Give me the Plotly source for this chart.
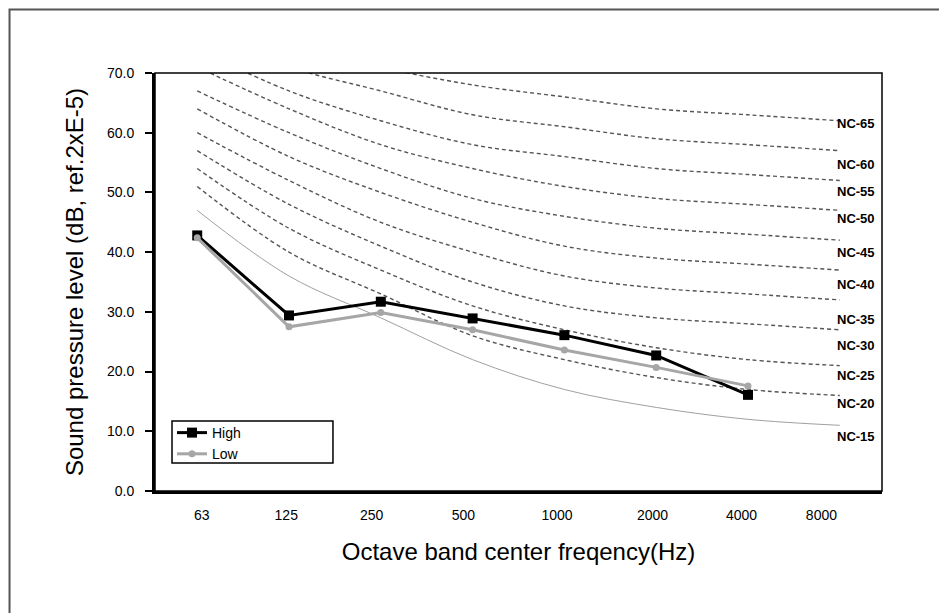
import plotly.graph_objects as go

# octave bands
bands = ['63', '125', '250', '500', '1000', '2000', '4000', '8000']
band_idx = list(range(len(bands)))

# measured levels
high = [42.8, 29.4, 31.7, 28.9, 26.1, 22.7, 16.1]
low = [42.4, 27.5, 29.9, 27.0, 23.6, 20.7, 17.6]

# NC reference curves
nc_names = ['NC-15', 'NC-20', 'NC-25', 'NC-30', 'NC-35', 'NC-40',
            'NC-45', 'NC-50', 'NC-55', 'NC-60', 'NC-65']
nc_curves = [
    [47, 36, 29, 22, 17, 14, 12, 11],
    [51, 40, 33, 26, 22, 19, 17, 16],
    [54, 44, 37, 31, 27, 24, 22, 21],
    [57, 48, 41, 35, 31, 29, 28, 27],
    [60, 52, 45, 40, 36, 34, 33, 32],
    [64, 56, 50, 45, 41, 39, 38, 37],
    [67, 60, 54, 49, 46, 44, 43, 42],
    [71, 64, 58, 54, 51, 49, 48, 47],
    [74, 67, 62, 58, 56, 54, 53, 52],
    [77, 71, 67, 63, 61, 59, 58, 57],
    [80, 75, 71, 68, 66, 64, 63, 62],
]

# layout helpers: where the NC labels sit (data y) and the x tick label shifts
nc_label_y = [9.2, 14.6, 19.3, 24.3, 28.8, 34.6, 39.9, 45.7, 50.1, 54.6, 61.5]
tick_shift = [0.05, -0.03, -0.10, -0.10, -0.08, -0.04, -0.07, -0.20]

fig = go.Figure()

for name, vals in zip(nc_names, nc_curves):
    if name == 'NC-15':
        line = dict(color='#a0a0a0', width=1, shape='spline', smoothing=1)
    else:
        line = dict(color='#555555', width=1.4, dash='4px,3px', shape='spline', smoothing=1)
    fig.add_trace(go.Scatter(x=band_idx, y=vals, mode='lines', line=line,
                             showlegend=False, hoverinfo='skip', name=name))

fig.add_trace(go.Scatter(x=band_idx[:len(high)], y=high, mode='lines+markers', name='High',
                         line=dict(color='black', width=3),
                         marker=dict(symbol='square', size=10, color='black')))
fig.add_trace(go.Scatter(x=band_idx[:len(low)], y=low, mode='lines+markers', name='Low',
                         line=dict(color='#a6a6a6', width=3),
                         marker=dict(symbol='circle', size=7, color='#a6a6a6')))

# NC labels on the right
for name, yy in zip(nc_names, nc_label_y):
    fig.add_annotation(x=0.993, xref='paper', y=yy, yref='y', text=name,
                       showarrow=False, xanchor='right', yanchor='middle',
                       font=dict(family='Liberation Sans Narrow, Arial Narrow, Liberation Sans, Arial',
                                 size=13, color='black', weight='bold'))

fig.update_xaxes(range=[-0.46, 7.46], showline=True, linecolor='black',
                 linewidth=3, ticks='', showgrid=False, zeroline=False,
                 tickmode='array', tickvals=[i + s for i, s in zip(band_idx, tick_shift)],
                 ticktext=bands, ticklabelstandoff=9,
                 tickfont=dict(size=14, color='black'),
                 title=dict(text='Octave band center freqency(Hz)',
                            font=dict(size=24, color='black'), standoff=22))
fig.update_yaxes(range=[0, 70], dtick=10, tickformat='.1f', showline=True, linecolor='black',
                 linewidth=3, ticks='outside', ticklen=7, tickwidth=2, tickcolor='black',
                 showgrid=False, zeroline=False, tickfont=dict(size=14, color='black'),
                 ticklabelstandoff=8,
                 title=dict(text='Sound pressure level (dB, ref.2xE-5)',
                            font=dict(size=24, color='black'), standoff=17))

# plot border, legend box and outer frame
fig.add_shape(type='rect', xref='paper', yref='paper', x0=0, x1=1, y0=0, y1=1,
              line=dict(color='black', width=1.5), layer='above')
fig.add_shape(type='rect', xref='paper', yref='paper', x0=0.0234, x1=0.2448, y0=0.067, y1=0.1675,
              line=dict(color='black', width=1.5), fillcolor='white', layer='below')
fig.add_shape(type='rect', xref='paper', yref='paper', x0=-0.2001, x1=1.2, y0=-0.6, y1=1.152,
              line=dict(color='#555555', width=2))

fig.update_layout(
    width=947, height=613,
    margin=dict(l=147, r=73, t=65, b=130),
    paper_bgcolor='white', plot_bgcolor='white',
    font=dict(family='Liberation Sans, Arial, sans-serif', color='black'),
    showlegend=True,
    legend=dict(x=0.0234, y=0.177, xanchor='left', yanchor='top',
                bgcolor='rgba(0,0,0,0)', borderwidth=0,
                font=dict(size=14), tracegroupgap=0, itemwidth=30),
)

fig.write_html("out.html")
